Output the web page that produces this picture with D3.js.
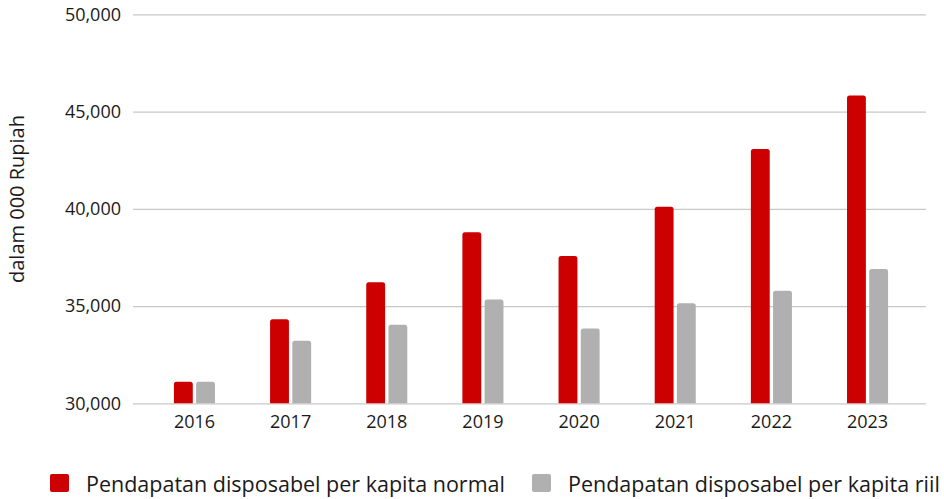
<!DOCTYPE html>
<html>
<head>
<meta charset="utf-8">
<script src="https://cdn.jsdelivr.net/npm/d3@7"></script>
<style>
  body { margin: 0; background: #fff; }
  svg { display: block; font-family: 'Open Sans', 'Noto Sans', sans-serif; }
</style>
</head>
<body>
<div class="chart"></div>
<script>
// data
const years = ['2016', '2017', '2018', '2019', '2020', '2021', '2022', '2023'];
const normal = [31110, 34320, 36220, 38790, 37570, 40100, 43080, 45830];
const riil = [31110, 33220, 34040, 35340, 33850, 35140, 35790, 36900];
const seriesNames = ['Pendapatan disposabel per kapita normal', 'Pendapatan disposabel per kapita riil'];
const yTicks = [30000, 35000, 40000, 45000, 50000];

const colors = ['#cc0000', '#b0b0b0'];

const W = 944, H = 499;
const plot = ({left: 133, right: 926, top: 14.3, bottom: 403.3});

const svg = d3.select('.chart').append('svg')
    .attr('width', W)
    .attr('height', H);

// scales
const x0 = d3.scaleBand()
    .domain(years)
    .range([plot.left + 1.5, plot.right + 1.5])
    .paddingInner(0.573)
    .paddingOuter(0.41);

const x1 = d3.scaleBand()
    .domain([0, 1])
    .range([0, x0.bandwidth()])
    .paddingInner(0.15);

const y = d3.scaleLinear()
    .domain([30000, 50000])
    .range([plot.bottom, plot.top]);

// gridlines + y labels
const yAxis = d3.axisLeft(y)
    .tickValues(yTicks)
    .tickSize(-(plot.right - plot.left))
    .tickPadding(12)
    .tickFormat(d3.format(','));

svg.append('g')
    .attr('class', 'axis y-axis')
    .attr('transform', 'translate(' + plot.left + ',0)')
    .call(yAxis)
    .call(g => g.select('.domain').remove())
    .call(g => g.selectAll('.tick line').attr('stroke', '#c8c8c8').attr('stroke-width', 1.2))
    .call(g => g.selectAll('.tick text')
        .attr('font-size', 18)
        .attr('fill', '#1a1a1a')
        .attr('font-family', "'Open Sans', sans-serif"));

// x labels
const xAxis = d3.axisBottom(x0).tickSize(0).tickPadding(12);
svg.append('g')
    .attr('class', 'axis x-axis')
    .attr('transform', 'translate(0,' + plot.bottom + ')')
    .call(xAxis)
    .call(g => g.select('.domain').remove())
    .call(g => g.selectAll('.tick text')
        .attr('font-size', 18)
        .attr('fill', '#1a1a1a')
        .attr('font-family', "'Open Sans', sans-serif"));

// bars with rounded top corners
function barPath(x, yTop, w, yBase, r) {
    r = Math.min(r, w / 2, yBase - yTop);
    return 'M' + x + ',' + yBase +
        'V' + (yTop + r) +
        'Q' + x + ',' + yTop + ' ' + (x + r) + ',' + yTop +
        'H' + (x + w - r) +
        'Q' + (x + w) + ',' + yTop + ' ' + (x + w) + ',' + (yTop + r) +
        'V' + yBase + 'Z';
}

const rows = years.map((yr, i) => ({ year: yr, vals: [normal[i], riil[i]] }));

const groups = svg.selectAll('.year')
    .data(rows)
    .enter()
    .append('g')
    .attr('class', 'year')
    .attr('transform', d => 'translate(' + x0(d.year) + ',0)');

groups.selectAll('path')
    .data(d => d.vals.map((v, k) => ({ k: k, v: v })))
    .enter()
    .append('path')
    .attr('fill', d => colors[d.k])
    .attr('d', d => barPath(x1(d.k), y(d.v), x1.bandwidth(), y(30000), 2.5));

// y axis title
svg.append('text')
    .attr('transform', 'translate(24,199) rotate(-90)')
    .attr('text-anchor', 'middle')
    .attr('font-size', 20)
    .attr('fill', '#1a1a1a')
    .text('dalam 000 Rupiah');

// legend
const legendX = [50, 532];
const legend = svg.append('g');

legend.selectAll('.legend-color')
    .data(seriesNames)
    .enter()
    .append('rect')
    .attr('x', (d, i) => legendX[i])
    .attr('y', 474)
    .attr('width', 19)
    .attr('height', 18)
    .attr('rx', 2)
    .attr('fill', (d, i) => colors[i]);

legend.selectAll('.legend-text')
    .data(seriesNames)
    .enter()
    .append('text')
    .attr('x', (d, i) => legendX[i] + 36)
    .attr('y', 491.5)
    .attr('font-size', 21.5)
    .attr('fill', '#1a1a1a')
    .text(d => d);
</script>
</body>
</html>
